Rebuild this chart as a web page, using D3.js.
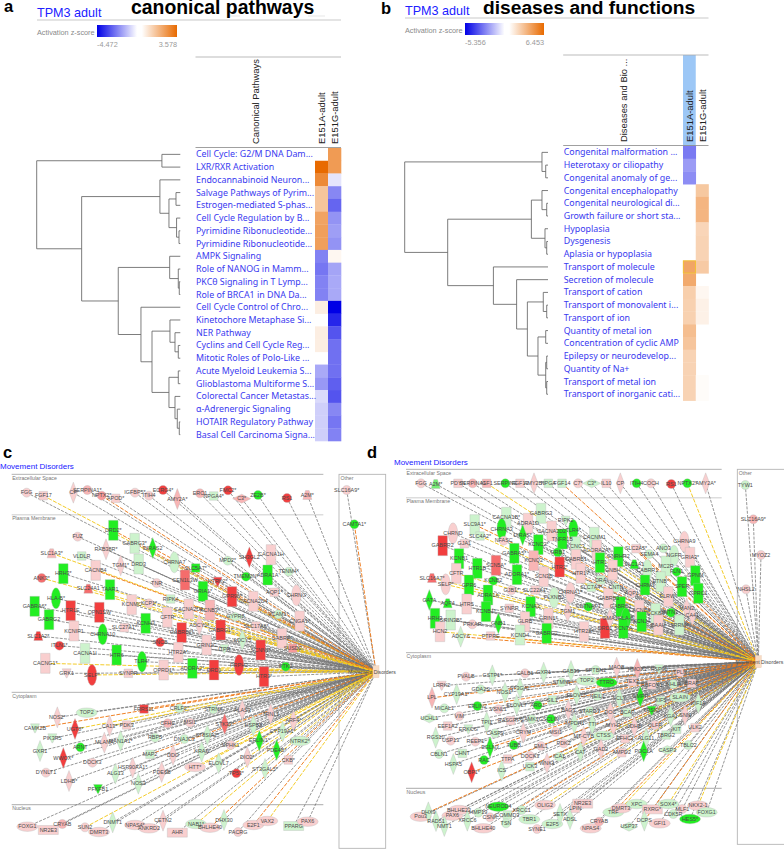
<!DOCTYPE html>
<html><head><meta charset="utf-8">
<script src="https://cdn.jsdelivr.net/npm/d3@7"></script>
<style>html,body{margin:0;padding:0;background:#fff}svg{display:block}</style>
</head><body><svg id="c" width="784" height="849"></svg>
<script>
// ---------- heat-map data ----------
const aRows=["Cell Cycle: G2/M DNA Dam...","LXR/RXR Activation","Endocannabinoid Neuron...","Salvage Pathways of Pyrim...","Estrogen-mediated S-phas...","Cell Cycle Regulation by B...","Pyrimidine Ribonucleotide...","Pyrimidine Ribonucleotide...","AMPK Signaling","Role of NANOG in Mamm...","PKCθ Signaling in T Lymp...","Role of BRCA1 in DNA Da...","Cell Cycle Control of Chro...","Kinetochore Metaphase Si...","NER Pathway","Cyclins and Cell Cycle Reg...","Mitotic Roles of Polo-Like ...","Acute Myeloid Leukemia S...","Glioblastoma Multiforme S...","Colorectal Cancer Metastas...","α-Adrenergic Signaling","HOTAIR Regulatory Pathway","Basal Cell Carcinoma Signa..."];
const aE151A=[null,3.578,2.8,1.4,1.4,2.2,2.3,2.3,-2.2,-2.4,-2.2,-2.2,0.4,null,0.4,0.4,null,-1.5,-1.8,-0.65,-0.85,-0.85,-0.85];
const aE151G=[2.4,2.4,-0.45,-2.1,-2.7,-1.9,-1.7,-1.9,0.2,-1.6,-1.5,-1.5,-4.472,-3.8,-3,-2.5,-2.5,-2.5,-2.8,-3,-2.1,-2.4,-2.2];
const aZ=[-4.472,3.578];
const bRows=["Congenital malformation ...","Heterotaxy or ciliopathy","Congenital anomaly of ge...","Congenital encephalopathy","Congenital neurological di...","Growth failure or short sta...","Hypoplasia","Dysgenesis","Aplasia or hypoplasia","Transport of molecule","Secretion of molecule","Transport of cation","Transport of monovalent i...","Transport of ion","Quantity of metal ion","Concentration of cyclic AMP","Epilepsy or neurodevelop...","Quantity of Na+","Transport of metal ion","Transport of inorganic cati..."];
const bE151A=[-2.8,-2.1,-2.4,null,null,null,null,null,null,3.9,3.7,2.1,2.0,2.0,2.8,2.5,1.9,1.9,1.9,1.9];
const bE151G=[null,null,null,2.4,3.2,3.2,1.8,1.9,1.9,2.3,null,0.35,0.6,0.6,null,null,null,null,0.15,0.15];
const bZ=[-5.356,6.453];
// dendrograms: [distance, child, child]; a number is a row index
const aTree=[1,[.128,0,1],[.687,[.142,2,[.079,[.03,3,4],[.026,5,[.009,6,7]]]],[.432,[.074,8,[.014,9,[.007,10,11]]],[.274,12,[.197,[.072,13,[.037,14,[.014,15,16]]],[.079,[.014,17,18],[.037,19,[.021,20,[.007,21,22]]]]]]]]];
const bTree=[1,[.042,0,[.016,1,2]],[.7,[.116,[.042,3,[.009,4,5]],[.021,6,[.009,7,8]]],[.381,9,[.219,10,[.144,[.033,11,[.009,12,13]],[.07,[.016,14,15],[.016,[.009,16,17],[.009,18,19]]]]]]]];

// ---------- network data: [label, shape, fold change, layout u, layout v, edge kind] ----------
const cExtra=[["FGG","c",1,80,188],["FGF17","b",1,130,197,"y"],["CP","t",1,220,188],["SERPINA1*","c",1.5,262,180],["NPTX2*","c",2,305,197,"o"],["APOD*","b",1,347,205],["IGFBP5*","c",1,405,188],["ITIH4","c",1,447,197],["ECRG4*","c",3,489,180],["AMY2A*","t",1.5,532,207],["ERO1","c",1.5,600,190],["NPGA4*","b",-1,641,198],["FMC2*","c",3,684,181],["C3*","w",1.5,725,206],["ZE2B*","c",-3,774,195],["RS1","c",3,861,204],["A2M*","u",1.5,922,195]];
const cOther=[["SLC16A9*","c",1,1040,180],["CAMTA1*","c",-3,1063,283,"o"]];
const cPlasma=[["DRD2*","r",-3,340,301,"o"],["FUZ","c",1,233,320],["GABRG3*","r",-1,404,340],["DIRAS2","t",-3,458,354,"o"],["RAB38R*","t",1,318,358],["SLC1A3*","u",1.5,155,370,"y"],["VLDLR","b",-1,245,378],["TGM1*","t",1,362,406],["DRD3","r",-1,416,402],["CHRNA7","e",-1,523,397],["MPD2*","c",-1,683,392],["SH3GL2","t",3,748,382],["CACNA1H","r",1,813,374],["HRH3*","r",-3,190,431],["CACNB4","r",1,287,421,"o"],["ANK3*","c",2.5,125,444,"y"],["SLC5A7*","b",-3,587,414],["TENM4*","c",-1,866,425],["TMEM2N*","c",-3,738,440],["ADRA1A","r",-3,803,435],["CEN1L3W","r",2.5,555,450],["GRIA1*","r",-3,609,484],["NTRK2*","d",3,653,455],["TNR","c",1,470,459],["SLC24A1","u",2.5,265,476,"y"],["TAAR1","r",-3,330,479,"y"],["HLA-B*","e",-3,168,505],["GPR98*","r",3,696,500],["AQP1*","b",1,823,487],["CHRNG","e",1,889,496],["CACNA2D4","r",1,760,514],["RIPK4","b",-1,512,507],["KCNMC","r",1,395,524],["KCP1*","c",1,447,520],["GABRA6*","r",-3,104,529],["HTR1E","r",3,212,542],["OPN1SW","r",3,298,547],["CACNA2D3","r",1,566,537,"o"],["KCNB3*","r",1.5,630,540],["GABRG2","r",-3,147,569],["CFTR","r",1,502,562,"y"],["VCAM1*","c",-1,835,553],["KCNH3","r",-3,437,580],["CNGA1*","r",1,899,573],["GYPR8","w",-1,706,560],["SLC17A6*","b",1,768,588],["ADCY1*","t",1,598,585],["GABRG1*","r",3,662,600,"y"],["SLC1A2*","u",3,115,618],["KCNIP1","r",1,222,603],["CHRNA10","e",-3,308,613],["SLC27A1*","b",1,373,593],["GABRB2*","r",3,545,608],["ITLN1*","c",3,178,647],["SNCB","c",3,480,637],["GABRP*","r",1,846,625],["ADCY5","t",-1,727,630],["GRIN2C","r",1,620,645],["ITPR","d",-1,673,657],["SCNN1*","r",3,782,660],["SUSD2","b",2,878,655],["CACNA1I","r",-1,255,670],["HTR6","r",-3,350,675],["HTR2A*","r",1,535,667],["TLR4*","e",-3,426,695],["CACNG1*","r",1,136,700,"y"],["GRK1","d",1,200,730],["SELP*","e",3,276,735,"y"],["SYNPR","b",1,385,730],["OPRD1*","r",1,491,720],["ADORA2*","r",-3,577,715,"y"],["DRD1","r",3,642,720,"y"],["PRPH2","e",3,717,705],["PTK2","c",-3,857,710],["HTR3*","r",3,792,740]];
const cCyto=[["NOS2*","t",1,172,862],["TOP2","f",-1,260,848],["FRRS1L","b",3,432,837,"o"],["CRLF2*","c",-1,538,835],["STRN4","c",-1,640,838],["ALAS3","t",1,727,840],["TRNL1","t",1,812,852],["ARF4*","t",1,880,872],["CAMK2B","d",-1,105,895,"o"],["UGT8*","t",3,225,897,"y"],["CA13*","t",1,329,888,"y"],["PDK3","b",1,380,885],["CFHC","c",1.5,503,880],["MSI1","c",1,570,878],["STK33*","t",2.5,674,882],["HSPB8","t",-1,760,887],["CYP19A1*","t",-1,848,905],["PIK3R5","d",-1,157,925],["MLANA","t",1,313,938],["MAN1A1*","t",-1,362,933],["RBP5","c",-1,465,923],["DNAJC3","c",-1,553,927],["ST8SIA2*","t",-1,622,915],["ERLIN1*","t",-3,778,932,"y"],["NTRK2*","f",-1,900,933],["GXR1","t",-1,120,963],["WWOX*","t",3,190,984],["ARNT","c",-3,241,952],["MAP2","b",-1,450,973,"o"],["DDO","t",1,519,975],["KRAS","t",-1,605,965],["SPHK1","c",1,692,945,"y"],["PDE4B*","t",-3,830,960],["CKB*","b",1,865,990],["DOCK3","c",1,277,998],["DYNLT1","c",1,138,1028],["HSP90AA1*","t",1,398,1013],["ALG13","t",-1,346,1031],["PDE6B","t",1,485,1026],["HTT*","f",1,585,1011,"y"],["ELOVL7","t",-1,656,1000],["DIO2*","t",1,742,982,"y"],["ST3GAL5*","t",-1,795,1017],["TP53*","c",3,709,1030,"y"],["LDHB*","t",1,207,1053],["NOS3","t",-1,415,1061],["PFKFB1","d",-3,294,1077]];
const cNucleus=[["FOXG1","f",1,82,1190],["NR2E3","q",1,145,1200],["CRYAB","c",1.5,187,1182],["SUN2","c",1,255,1192,"y"],["DMRT3","f",1,297,1206],["DNMT1","t",-1,338,1177],["NPAS4*","f",1,405,1185],["ANKRD2","f",1,447,1195],["CETN2","t",1,489,1172],["AHR","q",1,532,1208],["NAB1*","f",-1,588,1182,"y"],["BHLHE40","f",1,630,1193,"o"],["DHX30","t",-1,672,1170],["PACRG","c",1,714,1206],["E2F1","f",1,760,1185,"o"],["VAX2","f",1,802,1173,"y"],["PPARG","q",-1,881,1188],["PAX6","f",1,923,1175]];

const dExtra=[["FGG","c",1,93,160],["A2M*","u",-2,137,162],["PDYN","b",1,204,160],["SERPINA1","c",1.5,248,160],["IGF1","b",1.5,290,160,"y"],["SERPINE","c",-3,346,160],["FGF13","b",1,390,160],["AMY2B*","t",1,432,160],["NPGA","b",-1,475,160],["FGF14","b",-1,516,160,"o"],["C7*","c",1,564,160],["C3*","w",-1,605,160],["IL10","b",1,649,160],["CP","t",1,691,160],["ITIH4","c",-3,740,160],["COCH","c",1,783,160],["RS1","c",3,844,162],["NPTX2*","c",-3,892,160,"y"],["AMY2A*","t",1,947,160]];
const dOther=[["TYW1","c",-1,1066,165],["SLC16A9*","c",1.5,1090,268],["MYOZ2","c",1,1113,375],["NHSL2","c",1,1068,478]];
const dPlasma=[["GABRG3","r",-1,453,250],["CACNA1B*","r",-1,349,262],["ADRA1D","r",1,414,280],["RIPK2","d",-1,527,272],["SLC9A1*","r",-1,254,284,"o"],["CHRNA3","e",-3,335,297],["CACNA2D2","r",1,485,303],["TLR4*","e",-3,550,300],["TNFR1B","r",-3,517,327],["CACNM1","r",-1,613,322],["CHRND","e",1,189,310],["SLC4A2*","b",-1,270,318,"y"],["DIRAS*","t",-3,398,315],["NFASC","c",1,341,332],["KCNC2*","r",-3,445,344],["KCNC3","r",-1,557,350],["CHRNA9","e",1,883,335],["GABRR2","r",3,158,347],["GJA1","b",1,223,341],["GABRA5*","r",-3,373,370],["KCNQ2","r",1.5,431,392,"y"],["GRB1","c",-3,503,367],["ADORA2A*","r",1,620,360,"y"],["GNRHR2","r",-3,685,380],["SLC2A5*","b",1,738,356,"o"],["ANO3","c",-1,820,355],["GRIA3*","r",1,900,382],["SEMA4","c",-1,778,372],["NGFR","e",-1,852,377],["KCNB1","r",-3,207,386],["SCN5A*","r",2.5,318,406],["HTR1B","r",-3,262,415],["HTR2*","r",3,509,411],["GABRB1","r",1,558,388,"o"],["HTR1","r",-3,630,398],["SLC1A1","u",-3,733,403],["GNBH","r",1,668,420],["MC2R","r",-1,828,408],["CABRR1","e",-1,772,420],["FLN1","c",-3,860,425,"o"],["GPNM","r",-3,916,437],["CFTR","r",1,199,430,"y"],["ADORA1*","r",-3,381,434],["KCNB2","c",-3,310,452],["SCN3B","r",1,461,440],["HTR17","r",1,572,430],["SPER","r",-3,876,470],["SLC16A7*","u",2.5,126,444,"y"],["GPR6","r",-3,237,465],["SELP*","e",1,167,463,"y"],["DRA","b",-1,632,450],["CNTN","c",-1,678,473],["CHRM1","r",-3,765,465],["ETNB*","r",-1,812,455],["GJB1*","c",1,364,481],["SLC22A1*","b",1,436,480],["CHRNA1*","e",1,541,488],["SLC7A4*","b",-1,604,472],["ADRA1A","r",-3,294,495],["GPRC1","r",-3,925,490],["ELRW*","r",1,835,500],["AQP1","c",1,725,490],["PLXNB2","e",-1,492,503],["GATA","t",-3,118,510],["AQP4","u",-3,173,520],["HTR5","r",1,230,522],["KCNA3","r",-3,422,530],["CNTNAP1","c",-3,595,530],["TGM1","t",1,533,545],["GABRB1","r",-3,692,530],["CACNB4","r",1,748,540],["CCK8R","r",-1,797,550],["BAAH","r",1,805,585],["NTN1","c",-3,843,548],["MAN2","t",1,890,535],["CA41","t",1,907,555],["SRRM4","r",-1,868,585],["HLA-B","e",-3,708,565],["SCN7A","r",-3,700,595],["DRD1","r",3,645,595],["GABRB3","r",1,655,505],["GMA1","t",1,660,565],["KCNJ4","r",-3,755,575],["HRH3","r",-3,135,565],["GRIN3B*","r",-1,182,570],["KCNB1*","r",-3,288,545],["SYNPR","b",1,358,535],["GLRB","r",1,405,575],["GRIN1*","r",1,475,565],["GNB1","t",-3,325,580],["PRKAR","c",1,247,583],["HCN2","r",1,150,605,"y"],["ADCY6","t",-1,212,620,"o"],["PTPRE","b",1,302,618,"o"],["KCND4","r",-1,390,615],["GABRG2","r",-3,470,610],["HTR2A*","r",1,582,605]];
const dCyto=[["PVALB","c",1,228,740],["GSTP1*","t",-1,307,736],["CALB1","c",1,405,730],["GXR1","t",-1,461,728],["CAB39","t",-1,543,723],["SPTBN2","c",-1,617,720],["MAOB","t",1,680,713],["HMOX1","t",1.5,742,717],["HSP90","d",-1,807,718],["TPLN","c",1,870,727],["LRRK2","d",1,155,767],["CYP19A1*","t",-1,200,792],["GDA2S","c",-1,272,778],["NOS1*","t",-1,345,788],["ST3GAL","t",-1,390,775],["STMN1","c",-1,515,757],["TOP2","f",-1,590,752],["TTRO","f",-3,650,758],["TEX2","b",1,727,755],["RBFOX1","b",1,785,765],["NHLH","c",-1,850,762],["BRAF","b",1,905,760],["LPL","t",1.5,126,803,"o"],["MICAL1","c",-1,163,835],["ERLIN2","c",-3,262,828,"o"],["VSNL1","c",1,325,838],["ELOVL7","t",-1,380,825],["ARG1","c",-3,443,826,"o"],["SIL1","b",-1,487,810],["ELOVL5","t",-1,560,795],["NEIL1","c",-1,622,798],["SCLY","t",-1,688,805],["GMPR","t",-3,751,800],["KIF5","b",-1,812,812],["SLAIN","f",-1,870,802],["KIF1A","t",-1,925,820],["UCHL1","w",-1,118,865],["VIM","c",1,208,858],["TPI1","t",-1,290,876],["RASGRP2","b",1,362,872],["CAMK1G","c",-1,425,868],["SCLIN","c",-3,483,867],["BAG3","t",1,535,840],["STARD3","c",-1,598,843],["DOC","t",1,661,846],["BCAP","b",-1,712,848],["TRSK1","d",-3,785,842],["KGA1","t",-1,842,858],["SNN","t",1,885,855],["EEF1A2","b",1,173,888],["ERKCG","d",-1,235,898],["RGS10","t",-1,137,923],["CASP9","c",-1,315,910],["CRYM","t",1,400,908],["IMPDH1","t",-1,553,880],["TTI","t",-1,607,883],["MYH3","t",1,670,887],["LDHB","t",1,733,890],["OLFR","c",1,795,885],["KIT","b",-1,860,898],["ULK2","b",1,915,893],["USP13","c",1,182,932],["REEP1","c",1,256,935],["MSI1","c",1,497,906],["MT-CYB","t",1,581,920],["CTSS","f",-1,640,917],["EFHC2","b",1,705,926],["ALG11","t",-1,768,925],["TBRG2","b",-1,828,915],["EGLN3","t",-3,300,952,"o"],["TUBB","c",-3,371,945],["EML1","c",1,453,948],["PDK2","c",1,521,940],["CAT","t",-1,571,966],["GAD2","t",1,633,957],["POC1A","t",-3,761,964],["CASP3","w",-1,832,960],["TBLC2","c",-1,895,945],["CBLN1","c",-1,147,972],["CHNT","b",-1,217,970],["HSPA5","t",-1,190,1002],["RAC","c",-3,282,990],["TTPA","b",1,353,987],["DOCK3","c",1,420,978],["ICA1","c",-1,507,980,"y"],["AMPD2","b",1,695,968],["OBP1*","t",3,245,1027,"o"],["ICS","t",-1,335,1022],["UCK3","b",-1,420,1010],["WNK1","t",1,471,1000]];
const dNucleus=[["Pou3","f",1,92,1160],["DHX9","t",-1,115,1147,"o"],["RAD51","t",-1,138,1173],["PAX6","f",1,187,1157],["BHLHE22","f",1,207,1140],["NMT1","t",-1,163,1188],["XRCC6","t",-1,232,1172],["HMP19","c",-1,265,1148],["BHLHE40","f",1,280,1195],["CSNK","c",1,300,1162],["NEUROD4","f",-3,325,1130],["COMMD3","b",-1,352,1155,"o"],["TSN","c",-1,348,1180],["XRCC1","c",-1,395,1140],["TBR1","f",-1,418,1168],["OLIG2","f",1,465,1125,"y"],["SYNE1","c",1,441,1197],["E2F5","f",-1,487,1182],["SETX","t",-1,510,1152],["ADSL","t",-1,540,1167],["LPIN","b",1,556,1135],["NR2E3","q",1,578,1121],["NPAS4","f",1,602,1195],["CRYAB","c",1.5,627,1175],["TRF","f",-1,670,1147,"o"],["DMRT3","f",1,693,1135,"y"],["XPC","f",-1,740,1122],["USP37","w",-1,717,1190],["RXRG*","q",1,787,1138],["DCPS","t",-1,763,1172,"o"],["SOX4*","f",-1,835,1122,"y"],["GFI1","f",1,809,1180],["CDK5R","c",-1,850,1152],["MLF1","c",1,877,1137],["HES5*","f",-3,900,1167],["NKX2-1","f",1,924,1127,"y"],["FOXG1","f",-1,950,1147]];

// ---------- drawing ----------
const svg=d3.select("#c");
const SANS="'Liberation Sans',Arial,sans-serif";
const paint=(z)=>d3.scaleLinear().domain([z[0],0,z[1]]).range(["#0000e6","#ffffff","#e86a00"]);

function text(x,y,s,o={}){
  const t=svg.append("text").attr("x",x).attr("y",y).text(s)
    .attr("font-family",o.font||SANS).attr("font-size",o.size||10).attr("fill",o.fill||"#000");
  if(o.weight)t.attr("font-weight",o.weight);
  if(o.anchor)t.attr("text-anchor",o.anchor);
  if(o.rot)t.attr("transform",`rotate(-90 ${x} ${y})`);
  return t;
}
function hline(x1,x2,y,c,w){svg.append("line").attr("x1",x1).attr("x2",x2).attr("y1",y).attr("y2",y).attr("stroke",c||"#aaa").attr("stroke-width",w||1);}

function heatPanel(p){
  const y=d3.scaleBand().domain(d3.range(p.rows.length)).range(p.yRange);
  const x=d3.scaleBand().domain(["E151A-adult","E151G-adult"]).range(p.xRange);
  const col=paint(p.z);
  if(p.hiliteHeader) svg.append("rect").attr("x",x("E151A-adult")).attr("y",p.topLine).attr("width",x.bandwidth()).attr("height",p.yRange[0]-p.topLine).attr("fill","#9cc7f6");
  [["E151A-adult",p.a],["E151G-adult",p.g]].forEach(([name,vals])=>{
    svg.append("g").selectAll("rect").data(vals).join("rect")
      .attr("x",x(name)).attr("y",(d,i)=>y(i)).attr("width",x.bandwidth()+.3).attr("height",y.bandwidth()+.3)
      .attr("fill",d=>d==null?"none":col(d));
    text(x(name)+x.bandwidth()/2+3.5,p.headBase,name,{size:9.4,rot:true,fill:"#222"});
  });
  if(p.hiliteCell!=null) svg.append("rect").attr("x",x("E151A-adult")+.3).attr("y",y(p.hiliteCell)+.3).attr("width",x.bandwidth()-.6).attr("height",y.bandwidth()-.6).attr("fill","none").attr("stroke","#f2c430").attr("stroke-width",.9);
  svg.append("g").selectAll("text").data(p.rows).join("text")
    .attr("x",p.textX).attr("y",(d,i)=>y(i)+y.bandwidth()/2+3).text(d=>d)
    .attr("font-family","'Noto Sans',sans-serif").attr("font-size",8.85).attr("fill","#3a3af0");
  const dx=d3.scaleLinear().domain([0,1]).range(p.treeRange);
  const gt=svg.append("g").attr("fill","none").attr("stroke","#666").attr("stroke-width",.85);
  function walk(n){
    if(typeof n==="number") return {yy:y(n)+y.bandwidth()/2,dd:0};
    const kids=n.slice(1).map(walk), X=dx(n[0]);
    gt.append("path").attr("d",d3.line()([[dx(kids[0].dd),kids[0].yy],[X,kids[0].yy],[X,kids[1].yy],[dx(kids[1].dd),kids[1].yy]]));
    return {yy:(kids[0].yy+kids[1].yy)/2,dd:n[0]};
  }
  walk(p.tree);
  const L=p.legend, id="g"+p.tag;
  const lg=svg.append("defs").append("linearGradient").attr("id",id);
  [[0,col(p.z[0])],[.5,"#fff"],[.56,"#fff"],[1,col(p.z[1])]].forEach(s=>lg.append("stop").attr("offset",s[0]).attr("stop-color",s[1]));
  svg.append("rect").attr("x",L.x).attr("y",L.y).attr("width",L.w).attr("height",L.h).attr("fill",`url(#${id})`);
  text(p.leftX,L.y+10,"Activation z-score",{size:7.3,fill:"#8a8a8a"});
  text(L.x,L.y+22,String(p.z[0].toFixed(3)),{size:7.3,fill:"#9a9a9a"});
  text(L.x+L.w,L.y+22,String(p.z[1].toFixed(3)),{size:7.3,fill:"#9a9a9a",anchor:"end"});
  hline(p.leftX,p.xRange[1],p.rule,"#bbb",.8);
  hline(p.textX-.5,p.xRange[1],p.topLine,"#aaa",.8);
  hline(p.textX-.5,p.xRange[1],p.yRange[0]-.5,"#888",.8);
  (p.ruleBits||[]).forEach(b=>hline(b[0],b[1],p.rule-4,"#ddd",.7));
  text(p.headX,p.headBase,p.head,{size:9.4,rot:true,fill:"#222"});
  text(p.leftX,p.subBase,"TPM3 adult",{size:12.6,fill:"#2020ff"});
  text(p.titleX,p.titleBase,p.title,{size:p.titleSize,weight:"bold"});
  text(p.letterX,p.letterBase,p.tag,{size:16.5,weight:"bold"});
}
heatPanel({tag:"a",rows:aRows,a:aE151A,g:aE151G,z:aZ,tree:aTree,yRange:[148,441],xRange:[315,341],textX:196,treeRange:[180.3,36.7],leftX:37,rule:20,ruleBits:[[230,240],[308,325]],topLine:57,headX:258.5,head:"Canonical Pathways",headBase:144,legend:{x:97,y:25,w:80,h:12},subBase:17,titleX:131,titleBase:14,titleSize:19.4,title:"canonical pathways",letterX:4,letterBase:12});
heatPanel({tag:"b",rows:bRows,a:bE151A,g:bE151G,z:bZ,tree:bTree,yRange:[146,400.6],xRange:[683,708.5],textX:563.7,treeRange:[548,404.7],leftX:405,rule:18,topLine:55,headX:626.5,head:"Diseases and Bio ...",headBase:142,legend:{x:465,y:23,w:79,h:12},subBase:15,titleX:483,titleBase:14,titleSize:19.2,title:"diseases and functions",letterX:381,letterBase:14,hiliteHeader:true,hiliteCell:9});

// network
const fc=d3.scaleLinear().domain([-3,-2,-1,1,2,3]).range(["#22ee22","#77ee77","#cdf3cd","#f9cfcf","#f79a9a","#f23e3e"]);
const edgeColor={g:"#737373",y:"#f2c81e",o:"#ee7a1a"};
const edgeDash={g:"3 1.3",y:"4 1.5",o:"4 1.5"};
const shapeSize={r:[9.5,20],q:[20,9],b:[8.5,8.5],c:[9,9],e:[9.5,21],f:[21,9.5],t:[8,21],w:[18,9],u:[9,9],d:[9,9]};
function shapePath(k){
  const [w,h]=shapeSize[k], a=w/2,b=h/2;
  const line=d3.line();
  if(k==="c"||k==="e"||k==="f") return `M${-a},0A${a},${b} 0 1,1 ${a},0A${a},${b} 0 1,1 ${-a},0Z`;
  if(k==="t"||k==="w") return line([[0,-b],[a,0],[0,b],[-a,0]])+"Z";
  if(k==="u") return line([[-a*.4,-b],[a*.4,-b],[a,b],[-a,b]])+"Z";
  if(k==="d") return line([[-a,-b],[a,-b],[a*.1,b],[-a*.1,b]])+"Z";
  return line([[-a,-b],[a,-b],[a,b],[-a,b]])+"Z";
}
function network(p){
  const X=d3.scaleLinear().domain([0,3]).range([p.ox,p.ox+1]);
  const Y=d3.scaleLinear().domain([0,3]).range([430,431]);
  const g=svg.append("g");
  p.rules.forEach(r=>{
    g.append("line").attr("x1",X(r[0])).attr("x2",X(r[1])).attr("y1",Y(r[2])).attr("y2",Y(r[2])).attr("stroke",r[4]||"#aaa").attr("stroke-width",r[5]||.9);
    g.append("text").attr("x",X(r[0])+.5).attr("y",Y(r[2])+r[6]).text(r[3]).attr("font-family",SANS).attr("font-size",5.2).attr("fill","#777");
  });
  g.append("rect").attr("x",X(p.other[0])).attr("y",Y(p.other[2])).attr("width",X(p.other[1])-X(p.other[0])).attr("height",Y(p.other[3])-Y(p.other[2])).attr("fill","none").attr("stroke","#b5b5b5").attr("stroke-width",.9);
  g.append("text").attr("x",X(p.other[0])+1.5).attr("y",Y(p.other[2])+5.5).text("Other").attr("font-family",SANS).attr("font-size",5.2).attr("fill","#777");
  const nodes=p.nodes;
  const hx=X(p.hub[0]),hy=Y(p.hub[1]);
  const ordered=[...nodes.filter(n=>!n[5]),...nodes.filter(n=>n[5])];
  g.append("g").selectAll("line").data(ordered).join("line")
    .attr("x1",d=>X(d[3])).attr("y1",d=>Y(d[4])).attr("x2",hx).attr("y2",hy)
    .attr("stroke",d=>edgeColor[d[5]||"g"]).attr("stroke-width",d=>d[5]?.95:.75).attr("stroke-dasharray",d=>edgeDash[d[5]||"g"]);
  g.append("rect").attr("x",hx-3).attr("y",hy-6).attr("width",6).attr("height",12).attr("fill","#f8dcc4").attr("stroke","#e8c8b0").attr("stroke-width",.4);
  g.append("g").selectAll("path").data(nodes).join("path")
    .attr("transform",d=>`translate(${X(d[3])},${Y(d[4])})`).attr("d",d=>shapePath(d[1]))
    .attr("fill",d=>fc(d[2])).attr("stroke","#b8b8b8").attr("stroke-width",.35);
  g.append("g").selectAll("text").data(nodes).join("text")
    .attr("x",d=>X(d[3])).attr("y",d=>Y(d[4])+1.8).attr("text-anchor","middle").text(d=>d[0])
    .attr("font-family",SANS).attr("font-size",5.4).attr("fill","#4a4a4a");
  g.append("text").attr("x",hx+p.hubLabelDx).attr("y",hy+2).attr("text-anchor","middle").text("Movement Disorders").attr("font-family",SANS).attr("font-size",5.2).attr("fill","#4a4a4a");
  text(p.labelX,p.labelY,"Movement Disorders",{size:8,fill:"#2020ff"});
  text(p.letterX,458,p.tag,{size:16.5,weight:"bold"});
}
network({tag:"c",ox:0,nodes:[...cExtra,...cOther,...cPlasma,...cCyto,...cNucleus],hub:[1128,725],hubLabelDx:-4,
  other:[1017,1157,133,1255],labelX:0,labelY:469,letterX:3,
  rules:[[35,970,133,"Extracellular Space","#aaa",.9,5.5],[35,970,254,"Plasma Membrane","#ddd",1.5,5.5],[35,970,787,"Cytoplasm","#aaa",.9,5.5],[35,970,1124,"Nucleus","#bbb",1.2,5.5]]});
network({tag:"d",ox:390,nodes:[...dExtra,...dOther,...dPlasma,...dCyto,...dNucleus],hub:[1105,695],hubLabelDx:1,
  other:[1042,1190,118,1243],labelX:394,labelY:465,letterX:367,
  rules:[[48,995,118,"Extracellular Space","#aaa",.9,5.5],[48,995,203,"Plasma Membrane","#ddd",1.5,5.5],[48,995,668,"Cytoplasm","#aaa",.9,5.5],[48,995,1075,"Nucleus","#bbb",1.2,5.5]]});
</script></body></html>
